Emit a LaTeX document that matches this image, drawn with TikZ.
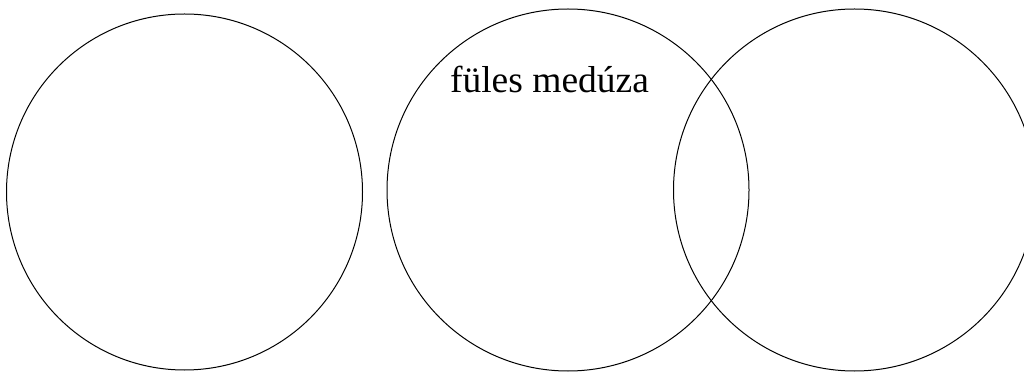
\documentclass[tikz,border=0pt]{standalone}
\usepackage{fontspec}
\setmainfont{Liberation Serif}
\begin{document}
\begin{tikzpicture}[x=1pt,y=1pt,
  ring/.style={draw=black,line width=1pt,circle,inner sep=0pt},
  lbl/.style={font=\fontsize{37.5}{42}\selectfont,anchor=base,inner sep=0pt}]
\useasboundingbox (0,0) rectangle (1024,372);
\begin{scope}
\clip (0,0) rectangle (1024,372);
\node[ring,minimum size=356pt] (c1) at (184.5,180) {};
\node[ring,minimum size=362pt] (c2) at (568,182) {};
\node[ring,minimum size=362pt] (c3) at (854.5,182) {};
\end{scope}
\node[lbl] (t) at (549.5,279) {füles medúza};
\end{tikzpicture}
\end{document}
